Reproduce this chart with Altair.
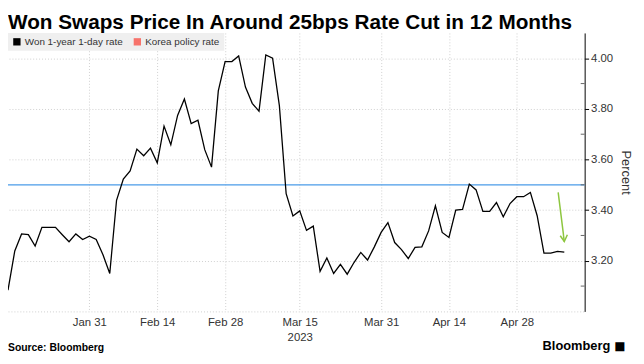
import altair as alt
import pandas as pd

# ---- data ----
dates = [d.strftime("%Y-%m-%d") for d in pd.bdate_range("2023-01-13", "2023-05-09")]
won_rate = [
    3.084, 3.239, 3.306, 3.303, 3.258, 3.332, 3.332, 3.332, 3.303, 3.275,
    3.306, 3.284, 3.297, 3.284, 3.224, 3.150, 3.439, 3.523, 3.555, 3.641,
    3.615, 3.645, 3.587, 3.732, 3.658, 3.774, 3.839, 3.742, 3.755, 3.639,
    3.570, 3.871, 3.987, 3.987, 4.009, 3.886, 3.822, 3.791, 4.013, 4.000,
    3.813, 3.465, 3.377, 3.397, 3.320, 3.337, 3.158, 3.211, 3.150, 3.186,
    3.147, 3.193, 3.233, 3.203, 3.255, 3.312, 3.351, 3.272, 3.244, 3.209,
    3.253, 3.255, 3.318, 3.417, 3.312, 3.292, 3.400, 3.403, 3.503, 3.480,
    3.395, 3.395, 3.430, 3.374, 3.426, 3.453, 3.453, 3.470, 3.378, 3.230,
    3.230, 3.237, 3.234,
]
policy_rate = [3.50]
legend_names = ["Won 1-year 1-day rate", "Korea policy rate"]
legend_colors = ["#000000", "#f7736b"]
tick_dates = ["2023-01-31", "2023-02-14", "2023-02-28", "2023-03-15",
              "2023-03-31", "2023-04-14", "2023-04-28"]
tick_labels = ["Jan 31", "Feb 14", "Feb 28", ["Mar 15", "2023"],
               "Mar 31", "Apr 14", "Apr 28"]
y_ticks = [3.2, 3.4, 3.6, 3.8, 4.0]
y_minor = [3.1, 3.3, 3.5, 3.7, 3.9]
title_text = ["Won Swaps Price In Around 25bps Rate Cut in 12 Months"]

# annotation arrow (in data units: business-day index, rate)
arrow_idx = [81.1, 82.0, 81.4, 82.0, 82.45]
arrow_rate = [3.47, 3.276, 3.299, 3.276, 3.303]
arrow_part = ["shaft", "shaft", "head", "head", "head"]
arrow_order = [0, 1, 0, 1, 2]

W, H = 584, 282

df = pd.DataFrame({"idx": list(range(len(dates))), "date": dates, "rate": won_rate})
tick_idx = [dates.index(d) for d in tick_dates]


def lab(v):
    if isinstance(v, list):
        return "[" + ",".join("'%s'" % s for s in v) + "]"
    return "'%s'" % v


label_expr = ""
for i, t in zip(tick_idx, tick_labels):
    label_expr += "datum.value == %d ? %s : " % (i, lab(t))
label_expr += "''"

FONT = "Liberation Sans"

x_enc = alt.X(
    "idx:Q",
    scale=alt.Scale(domain=[0, 85], nice=False, zero=False),
    axis=alt.Axis(
        values=tick_idx, labelExpr=label_expr, title=None, grid=True,
        gridDash=[1, 2], gridColor="#cfcfcf", ticks=False, domain=True,
        domainDash=[1, 2], domainColor="#cfcfcf", labelFontSize=11.5,
        labelColor="#333333", labelPadding=5, labelFont=FONT, labelFlush=False,
        labelLineHeight=15,
    ),
)
y_enc = alt.Y(
    "rate:Q",
    scale=alt.Scale(domain=[3.0, 4.1], nice=False, zero=False),
    axis=alt.Axis(
        orient="right", values=y_ticks, format=".2f", title="Percent",
        titleAngle=90, titleFontSize=13, titleFontWeight="normal",
        titleColor="#333333", titleFont=FONT, titlePadding=6,
        grid=True, gridDash=[1, 2], gridColor="#cfcfcf",
        domain=True, domainColor="#000000", tickColor="#000000", tickSize=4,
        labelFontSize=11.5, labelColor="#333333", labelFont=FONT, labelPadding=2,
    ),
)

line = alt.Chart(df).mark_line(color="#000000", strokeWidth=1.3).encode(x=x_enc, y=y_enc)

policy = alt.Chart(pd.DataFrame({"rate": policy_rate})).mark_rule(
    color="#4a9be8", strokeWidth=1.3
).encode(y="rate:Q")

minor = alt.Chart(pd.DataFrame({"rate": y_minor})).mark_rule(
    color="#666666", strokeWidth=1
).encode(y="rate:Q", x=alt.value(W - 4), x2=alt.value(W))

arrow = alt.Chart(pd.DataFrame({
    "idx": arrow_idx, "rate": arrow_rate, "part": arrow_part, "o": arrow_order
})).mark_line(color="#8dc63f", strokeWidth=1.5).encode(
    x="idx:Q", y="rate:Q", detail="part:N", order="o:Q"
)

legend_layer = alt.Chart(pd.DataFrame({"series": legend_names})).transform_filter(
    "false"
).mark_square(size=55, opacity=1).encode(
    color=alt.Color(
        "series:N",
        scale=alt.Scale(domain=legend_names, range=legend_colors),
        legend=alt.Legend(
            title=None, orient="top-left", direction="horizontal",
            fillColor="#efefef", padding=4, offset=0, symbolType="square",
            symbolSize=55, labelFontSize=10, labelColor="#333333",
            labelFont=FONT, columnPadding=9, labelOffset=3, symbolStrokeWidth=0,
        ),
    )
)

title = alt.Chart(pd.DataFrame({"t": title_text})).mark_text(
    align="left", baseline="alphabetic", fontSize=21, fontWeight="bold",
    font=FONT, color="#000000"
).encode(text="t:N", x=alt.value(0), y=alt.value(-4))

source = alt.Chart(pd.DataFrame({"t": ["Source: Bloomberg"]})).mark_text(
    align="left", baseline="middle", fontSize=10.5, fontWeight="bold",
    font=FONT, color="#000000"
).encode(text="t:N", x=alt.value(0), y=alt.value(319))

brand = alt.Chart(pd.DataFrame({"t": ["Bloomberg"]})).mark_text(
    align="right", baseline="middle", fontSize=13, fontWeight="bold",
    font=FONT, color="#000000"
).encode(text="t:N", x=alt.value(610), y=alt.value(317))

logo = alt.Chart(pd.DataFrame({"t": ["■"]})).mark_text(
    align="left", baseline="middle", fontSize=12, font="DejaVu Sans", color="#000000"
).encode(text="t:N", x=alt.value(614), y=alt.value(317))

chart = alt.layer(policy, line, minor, arrow, legend_layer, title, source, brand, logo).properties(
    width=W, height=H,
    autosize=alt.AutoSizeParams(type="none"),
    padding={"left": 0, "top": 23, "right": 52, "bottom": 51},
).configure_view(stroke=None)

chart.save("out.html", embed_options={"renderer": "svg", "actions": False})
